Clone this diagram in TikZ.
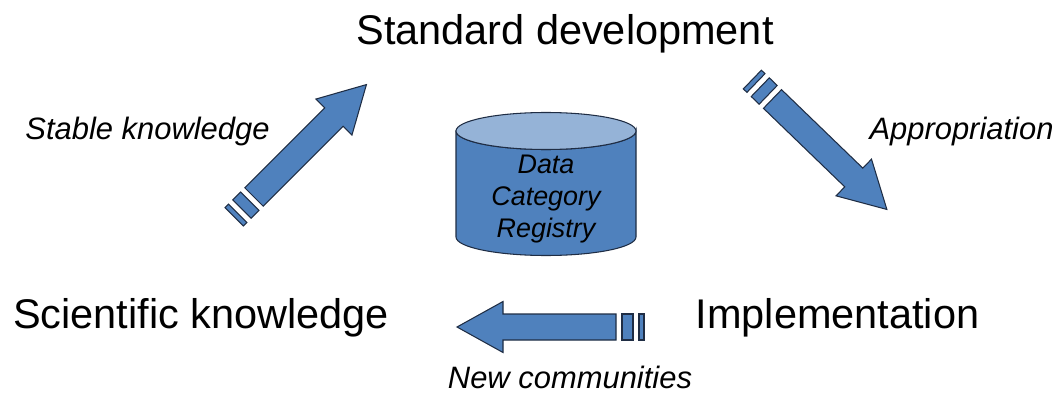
\documentclass[tikz,border=0pt]{standalone}
\usepackage{fontspec}
\setmainfont{Liberation Sans}
\usepackage{tikz}
\usetikzlibrary{positioning}
\definecolor{regblue}{HTML}{4F81BD}
\definecolor{regtop}{HTML}{95B3D7}
\definecolor{regline}{HTML}{1F2D44}

\tikzset{
  pics/stripedarrow/.style={code={
    \filldraw[fill=regblue, draw=regline, line width=0.6pt, line join=miter]
      (0,-0.26) -- (2.26,-0.26) -- (2.26,-0.51) -- (3.18,0)
      -- (2.26,0.51) -- (2.26,0.26) -- (0,0.26) -- cycle;
    \filldraw[fill=regblue, draw=regline, line width=0.6pt] (-0.12,-0.26) rectangle (-0.34,0.26);
    \filldraw[fill=regblue, draw=regline, line width=0.6pt] (-0.46,-0.26) rectangle (-0.56,0.26);
  }}
}

\begin{document}
\begin{tikzpicture}[
  stage/.style={
    font=\fontsize{23.6}{28}\selectfont, anchor=base, inner sep=0pt
  },
  flow/.style={
    font=\fontsize{17.6}{21}\selectfont\itshape, anchor=base, inner sep=0pt
  },
  registry/.style={
    font=\fontsize{15.3}{18.1}\selectfont\itshape, align=center, inner sep=0pt
  }
]
\useasboundingbox (0,0) rectangle (21.18,-7.88);

% Stages
\node[stage] (standard) at (11.3,-0.88) {Standard development};
\node[stage] (science) at (4.02,-6.56) {Scientific knowledge};
\node[stage] (impl) at (16.75,-6.56) {Implementation};

% Flow labels
\node[flow] (stable) at (2.95,-2.78) {Stable knowledge};
\node[flow] (approp) at (19.23,-2.78) {Appropriation};
\node[flow] (newcom) at (11.4,-7.76) {New communities};

% Data Category Registry cylinder
\filldraw[fill=regblue, draw=regline, line width=0.6pt]
  (9.12,-2.62) -- (9.12,-4.74) arc[start angle=180, end angle=360, x radius=1.8, y radius=0.37]
  -- (12.72,-2.62) arc[start angle=0, end angle=-180, x radius=1.8, y radius=0.37] -- cycle;
\filldraw[fill=regtop, draw=regline, line width=0.6pt] (10.92,-2.62) ellipse[x radius=1.8, y radius=0.37];
\node[registry] (dcr) at (10.92,-3.98) {Data\\Category\\Registry};

% Arrows
\pic[rotate=45] at (5.08,-3.94) {stripedarrow};
\pic[rotate=-44] at (15.45,-1.98) {stripedarrow};
\pic[rotate=180] at (12.32,-6.54) {stripedarrow};

\end{tikzpicture}
\end{document}
